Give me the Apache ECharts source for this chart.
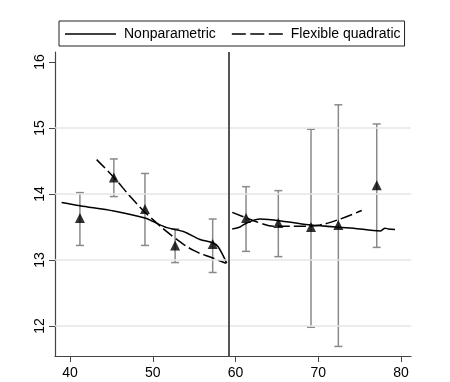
<!DOCTYPE html>
<html>
<head>
<meta charset="utf-8">
<script src="https://cdn.jsdelivr.net/npm/echarts@6/dist/echarts.min.js"></script>
<style>html,body{margin:0;padding:0;background:#fff}#c{width:450px;height:382px}</style>
</head>
<body>
<div id="c"></div>
<script>
// Binned means with confidence intervals
const binX    = [41.2, 45.3, 49.06, 52.7, 57.24, 61.27, 65.17, 69.12, 72.42, 77.06];
const binMean = [13.635, 14.25, 13.77, 13.22, 13.24, 13.635, 13.56, 13.50, 13.53, 14.13];
const binLow  = [13.22, 13.96, 13.22, 12.96, 12.81, 13.13, 13.05, 11.98, 11.69, 13.19];
const binHigh = [14.02, 14.53, 14.31, 13.47, 13.62, 14.11, 14.05, 14.98, 15.35, 15.06];

// Nonparametric fit (left and right of cutoff)
const npLeftX  = [38.99, 41.2, 45.3, 49.06, 50.06, 51.7, 53.7, 55.7, 57.24, 57.9, 58.94];
const npLeftY  = [13.87, 13.82, 13.74, 13.635, 13.58, 13.49, 13.43, 13.31, 13.26, 13.2, 12.95];
const npRightX = [59.6, 60.54, 61.35, 62.96, 66.19, 69.12, 74.24, 77.46, 78.07, 78.47, 79.27];
const npRightY = [13.47, 13.50, 13.56, 13.62, 13.58, 13.53, 13.48, 13.44, 13.48, 13.47, 13.46];

// Flexible quadratic fit
const fqLeftX  = [43.22, 45.3, 47.5, 49.67, 52.7, 55.0, 57.24, 58.85];
const fqLeftY  = [14.52, 14.25, 13.93, 13.65, 13.33, 13.14, 13.03, 12.95];
const fqRightX = [59.6, 61.35, 62.96, 64.57, 68.2, 70.2, 72.42, 75.25];
const fqRightY = [13.72, 13.635, 13.56, 13.51, 13.51, 13.53, 13.61, 13.75];

const cutoff = 59.18;
const xTicks = [40, 50, 60, 70, 80];
const yTicks = [12, 13, 14, 15, 16];
const gridY  = [12, 13, 14, 15];

const zip = (a, b) => a.map((v, i) => [v, b[i]]);

const chart = echarts.init(document.getElementById('c'), null, {renderer: 'canvas'});
const font = 'Liberation Sans, Arial, sans-serif';

const solidIcon  = 'path://M0,0H51V1.5H0Z';
const dashedIcon = 'path://M0,0H14V1.5H0Z M18.5,0H32.5V1.5H18.5Z M37,0H51V1.5H37Z';

const option = {
  animation: false,
  backgroundColor: '#fff',
  grid: {left: 55, right: 39, top: 52, bottom: 26},
  legend: {
    left: 59, top: 21,
    padding: [6, 4, 5, 6],
    borderColor: '#222', borderWidth: 1,
    itemWidth: 51, itemHeight: 1.5, itemGap: 16,
    textStyle: {fontFamily: font, fontSize: 14, color: '#000', padding: [0, 0, 0, 3]},
    itemStyle: {color: '#000'},
    data: [
      {name: 'Nonparametric', icon: solidIcon},
      {name: 'Flexible quadratic', icon: dashedIcon}
    ]
  },
  xAxis: {
    type: 'value', min: 38.19, max: 81.2,
    axisLine: {lineStyle: {color: '#444', width: 1.2}},
    axisTick: {show: true, length: 6, lineStyle: {color: '#444'}, customValues: xTicks},
    axisLabel: {customValues: xTicks, fontFamily: font, fontSize: 14, color: '#000', margin: 10},
    splitLine: {show: false}
  },
  yAxis: {
    type: 'value', min: 11.545, max: 16.15,
    axisLine: {show: true, lineStyle: {color: '#444', width: 1.2}},
    axisTick: {show: true, length: 6, lineStyle: {color: '#444'}, customValues: yTicks},
    axisLabel: {customValues: yTicks, rotate: 90, fontFamily: font, fontSize: 14, color: '#000', margin: 8},
    splitLine: {show: false}
  },
  series: [
    {
      type: 'line', name: 'grid', data: [], silent: true,
      markLine: {
        silent: true, symbol: 'none', label: {show: false},
        lineStyle: {color: '#e6e6e6', width: 1.5, type: 'solid'},
        data: gridY.map(v => ({yAxis: v}))
      }
    },
    {
      type: 'custom', name: 'ci', silent: true,
      data: binX.map((x, i) => [x, binLow[i], binHigh[i]]),
      renderItem: function (params, api) {
        const lo = api.coord([api.value(0), api.value(1)]);
        const hi = api.coord([api.value(0), api.value(2)]);
        const w = 4;
        const st = {stroke: '#8a8a8a', lineWidth: 1.5};
        return {type: 'group', children: [
          {type: 'line', shape: {x1: lo[0], y1: lo[1], x2: hi[0], y2: hi[1]}, style: st},
          {type: 'line', shape: {x1: lo[0] - w, y1: lo[1], x2: lo[0] + w, y2: lo[1]}, style: st},
          {type: 'line', shape: {x1: hi[0] - w, y1: hi[1], x2: hi[0] + w, y2: hi[1]}, style: st}
        ]};
      },
      z: 2
    },
    {
      type: 'line', name: 'Nonparametric', data: zip(npLeftX, npLeftY),
      showSymbol: false, symbol: 'none', smooth: 0.3,
      lineStyle: {color: '#000', width: 1.5}, itemStyle: {color: '#000'}, z: 3,
      markLine: {
        silent: true, symbol: 'none', label: {show: false},
        lineStyle: {color: '#555', width: 2, type: 'solid'},
        data: [{xAxis: cutoff}]
      }
    },
    {
      type: 'line', name: 'Nonparametric', data: zip(npRightX, npRightY),
      showSymbol: false, symbol: 'none', smooth: 0.3,
      lineStyle: {color: '#000', width: 1.5}, itemStyle: {color: '#000'}, z: 3
    },
    {
      type: 'line', name: 'Flexible quadratic', data: zip(fqLeftX, fqLeftY),
      showSymbol: false, symbol: 'none', smooth: 0.4,
      lineStyle: {color: '#000', width: 1.5, type: [12, 4]}, itemStyle: {color: '#000'}, z: 3
    },
    {
      type: 'line', name: 'Flexible quadratic', data: zip(fqRightX, fqRightY),
      showSymbol: false, symbol: 'none', smooth: 0.4,
      lineStyle: {color: '#000', width: 1.5, type: [12, 4]}, itemStyle: {color: '#000'}, z: 3
    },
    {
      type: 'scatter', name: 'means', data: zip(binX, binMean),
      symbol: 'triangle', symbolSize: 10,
      itemStyle: {color: '#000'}, z: 4
    }
  ]
};
chart.setOption(option);
</script>
</body>
</html>
